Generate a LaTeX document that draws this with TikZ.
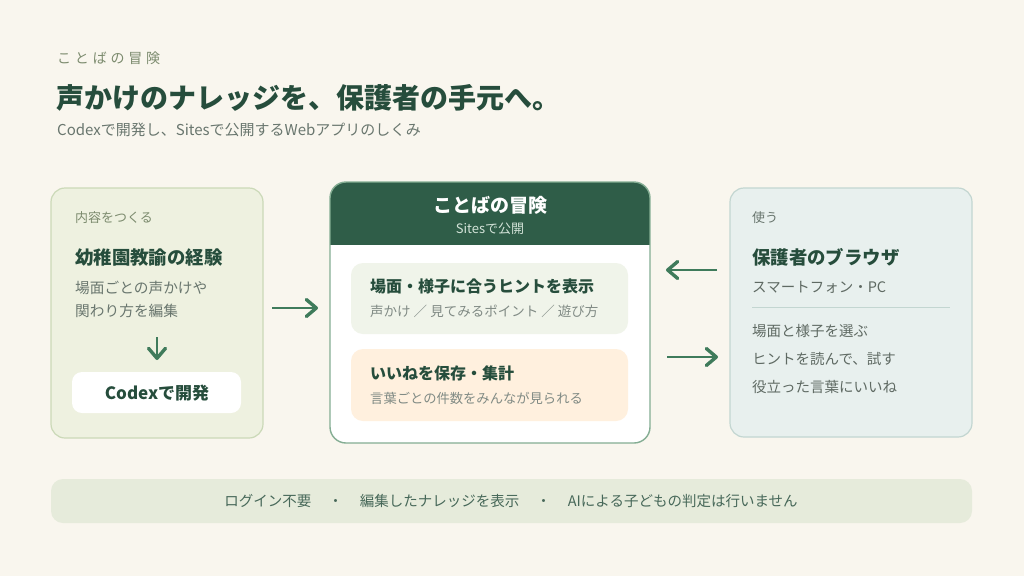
\documentclass[tikz,border=0pt]{standalone}
\usepackage{fontspec}
\setmainfont{Noto Sans CJK JP}
\usetikzlibrary{arrows.meta}

\definecolor{bgcream}{HTML}{F9F6EE}
\definecolor{deepgreen}{HTML}{2F5D48}
\definecolor{titlegreen}{HTML}{264D3C}
\definecolor{mutedgray}{HTML}{69766E}
\definecolor{leafgray}{HTML}{7C8B6E}
\definecolor{arrowgreen}{HTML}{3F7B5B}
\definecolor{makefill}{HTML}{EEF1E0}
\definecolor{makeline}{HTML}{CBD9B8}
\definecolor{siteline}{HTML}{84AD93}
\definecolor{hintfill}{HTML}{F0F4EA}
\definecolor{likefill}{HTML}{FFF0DE}
\definecolor{usefill}{HTML}{E8F0EE}
\definecolor{useline}{HTML}{C3D6D1}
\definecolor{barfill}{HTML}{E6EBDB}
\definecolor{headsub}{HTML}{D3E3D8}

\tikzset{
  fs/.code={\fontsize{#1}{#1}\selectfont},
  lbl/.style={anchor=west,inner sep=0pt},
  flow/.style={draw=arrowgreen,line width=2.2pt,
    -{Straight Barb[length=10pt,width=17pt,line width=3.4pt,line cap=round,line join=round]}},
}

\begin{document}
\begin{tikzpicture}[x=1pt,y=-1pt]
\useasboundingbox[fill=bgcream] (0,0) rectangle (1024,576);

% heading
\node[lbl,text=leafgray,fs=14] (kicker) at (57,58) {\addfontfeature{LetterSpace=27}ことばの冒険};
\node[lbl,text=titlegreen,fs=28,font=\bfseries] (headline) at (56,98) {声かけのナレッジを、保護者の手元へ。};
\node[lbl,text=mutedgray,fs=15] (subline) at (57,130) {Codexで開発し、Sitesで公開するWebアプリのしくみ};

% left: make content
\draw[fill=makefill,draw=makeline,line width=1.2pt,rounded corners=14pt] (51,188) rectangle (263,438);
\node[lbl,text=leafgray,fs=13] (makekick) at (75,218) {内容をつくる};
\node[lbl,text=titlegreen,fs=18.4,font=\bfseries] (maketitle) at (75,258) {幼稚園教諭の経験};
\node[lbl,text=mutedgray,fs=14.7] (makel1) at (75,288) {場面ごとの声かけや};
\node[lbl,text=mutedgray,fs=14.7] (makel2) at (75,311) {関わり方を編集};
\coordinate (downs) at (157,337);
\coordinate (downe) at (157,360);
\draw[flow,line width=2.6pt] (downs) -- (downe);
\fill[white,rounded corners=10pt] (72,372) rectangle (241,413);
\node[text=titlegreen,fs=17,font=\bfseries,inner sep=0pt] (codex) at (157,393) {Codexで開発};

% center: the site
\begin{scope}
  \clip[rounded corners=16pt] (330,182) rectangle (650,443);
  \fill[white] (330,182) rectangle (650,443);
  \fill[deepgreen] (330,182) rectangle (650,245);
\end{scope}
\draw[draw=siteline,line width=1.4pt,rounded corners=16pt] (330,182) rectangle (650,443);
\node[text=white,fs=19,font=\bfseries,inner sep=0pt] (sitename) at (490,205) {ことばの冒険};
\node[text=headsub,fs=13,inner sep=0pt] (sitesub) at (490,229) {Sitesで公開};

\fill[hintfill,rounded corners=12pt] (351,263) rectangle (628,334);
\node[lbl,text=titlegreen,fs=16,font=\bfseries] (hinttitle) at (370,286) {場面・様子に合うヒントを表示};
\node[lbl,text=mutedgray!85,fs=13.5] (hintsub) at (370,311) {声かけ ／ 見てみるポイント ／ 遊び方};

\fill[likefill,rounded corners=12pt] (351,349) rectangle (628,421);
\node[lbl,text=titlegreen,fs=16,font=\bfseries] (liketitle) at (370,373) {いいねを保存・集計};
\node[lbl,text=mutedgray!85,fs=13.3] (likesub) at (370,398) {言葉ごとの件数をみんなが見られる};

% right: parents
\draw[fill=usefill,draw=useline,line width=1.2pt,rounded corners=14pt] (730,188) rectangle (972,437);
\node[lbl,text=mutedgray,fs=13] (usekick) at (752,218) {使う};
\node[lbl,text=titlegreen,fs=18.4,font=\bfseries] (usetitle) at (752,257) {保護者のブラウザ};
\node[lbl,text=mutedgray!90!black,fs=14.5] (usedev) at (752,287) {スマートフォン・PC};
\draw[useline,line width=1pt] (752,307) -- (950,307);
\node[lbl,text=mutedgray!90!black,fs=14.5] (usel1) at (752,331) {場面と様子を選ぶ};
\node[lbl,text=mutedgray!90!black,fs=14.5] (usel2) at (752,359) {ヒントを読んで、試す};
\node[lbl,text=mutedgray!90!black,fs=14.5] (usel3) at (752,387) {役立った言葉にいいね};

% arrows between boxes
\coordinate (m2s) at (272,308);
\coordinate (m2e) at (318,308);
\coordinate (u2s) at (717,270);
\coordinate (u2e) at (666,270);
\coordinate (s2s) at (667,357);
\coordinate (s2e) at (718,357);
\draw[flow] (m2s) -- (m2e);
\draw[flow] (u2s) -- (u2e);
\draw[flow] (s2s) -- (s2e);

% footer
\fill[barfill,rounded corners=12pt] (51,479) rectangle (972,523);
\node[text=titlegreen!85,fs=14.5,inner sep=0pt] (footnote) at (511,501) {ログイン不要\hspace{17pt}・\hspace{17pt}編集したナレッジを表示\hspace{17pt}・\hspace{17pt}AIによる子どもの判定は行いません};
\end{tikzpicture}
\end{document}
